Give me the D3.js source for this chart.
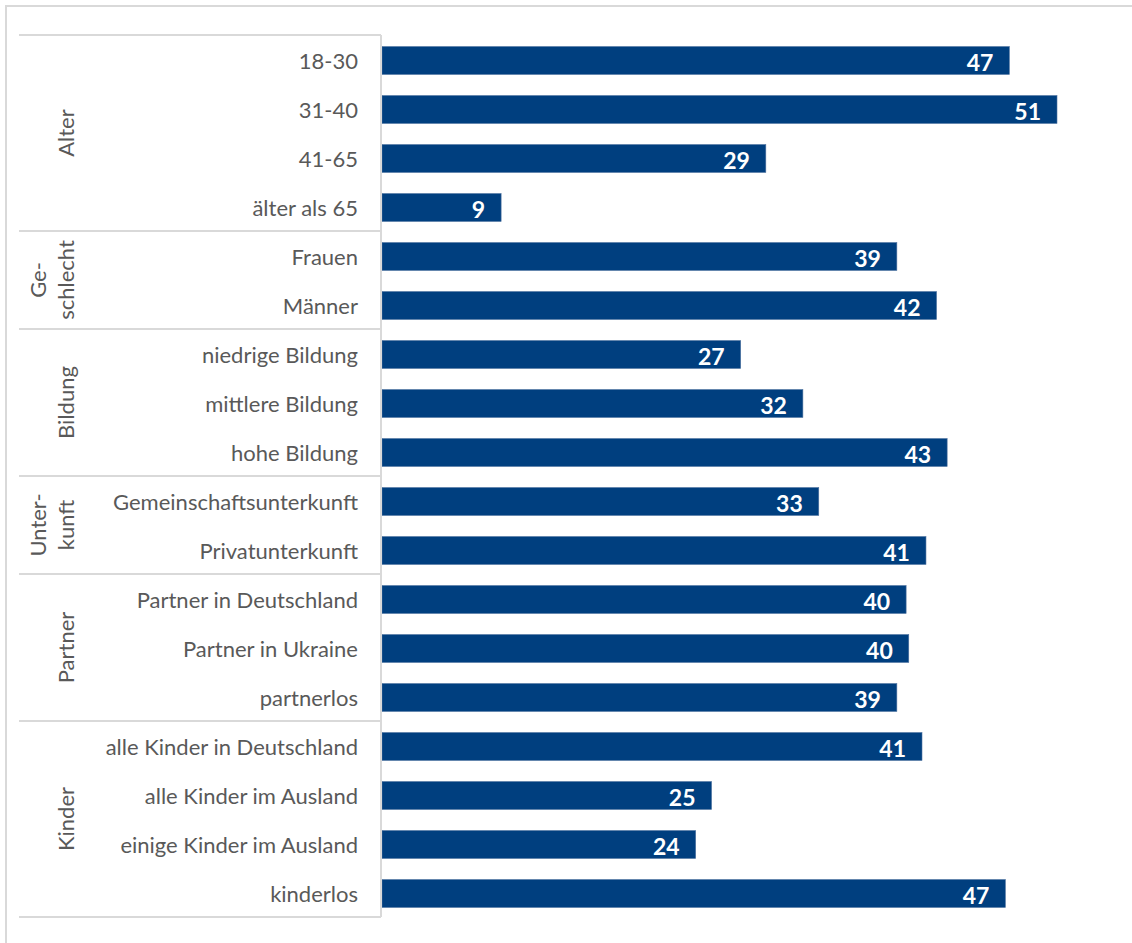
<!DOCTYPE html>
<html>
<head>
<meta charset="utf-8">
<script src="https://cdn.jsdelivr.net/npm/d3@7"></script>
<style>
  html, body { margin: 0; padding: 0; background: #fff; }
  svg { display: block; }
</style>
</head>
<body>
<svg id="chart" width="1132" height="943"></svg>
<script>
// ---- data ----
const categories = [
  "18-30", "31-40", "41-65", "älter als 65",
  "Frauen", "Männer",
  "niedrige Bildung", "mittlere Bildung", "hohe Bildung",
  "Gemeinschaftsunterkunft", "Privatunterkunft",
  "Partner in Deutschland", "Partner in Ukraine", "partnerlos",
  "alle Kinder in Deutschland", "alle Kinder im Ausland", "einige Kinder im Ausland", "kinderlos"
];
const values = [47.4, 51.0, 29.0, 9.0, 38.9, 41.9, 27.1, 31.8, 42.7, 33.0, 41.1, 39.6, 39.8, 38.9, 40.8, 24.9, 23.7, 47.1];
const groupNames = [["Alter"], ["Ge-", "schlecht"], ["Bildung"], ["Unter-", "kunft"], ["Partner"], ["Kinder"]];
const groupSizes = [4, 2, 3, 2, 3, 4];

(function () {
// ---- layout ----
const svg = d3.select("#chart");
const plotTop = 35, plotBottom = 917, axisX = 381, sepLeft = 19;
const barColor = "#003f7f";
const textColor = "#595959";
const lineColor = "#d9d9d9";
const font = "Lato, 'Open Sans', sans-serif";

// outer frame
svg.append("rect")
  .attr("x", 6).attr("y", 6)
  .attr("width", 1140).attr("height", 950)
  .attr("fill", "none").attr("stroke", lineColor).attr("stroke-width", 2);

const y = d3.scaleBand().domain(categories).range([plotTop + 1, plotBottom + 1]).paddingInner(0.43).paddingOuter(0.215);
const x = d3.scaleLinear().domain([0, 51]).range([axisX + 1, 1057]);

// bars
svg.append("g").selectAll("rect").data(categories).join("rect")
  .attr("x", x(0))
  .attr("y", d => y(d))
  .attr("width", (d, i) => x(values[i]) - x(0))
  .attr("height", y.bandwidth())
  .attr("fill", barColor)
  .attr("stroke", "#4f73a0").attr("stroke-width", 0.6);

// value labels
svg.append("g").selectAll("text").data(categories).join("text")
  .attr("x", (d, i) => x(values[i]) - 16)
  .attr("y", d => y(d) + y.bandwidth() / 2 + 1)
  .attr("text-anchor", "end")
  .attr("dominant-baseline", "central")
  .attr("font-family", font)
  .attr("font-weight", "bold")
  .attr("font-size", 23)
  .attr("fill", "#fff")
  .text((d, i) => d3.format(".0f")(values[i]));

// category axis
const step = y.step();
const rowCenter = d => y(d) + y.bandwidth() / 2;
svg.append("g").selectAll("text").data(categories).join("text")
  .attr("x", 358)
  .attr("y", d => rowCenter(d))
  .attr("text-anchor", "end")
  .attr("dominant-baseline", "central")
  .attr("font-family", font)
  .attr("font-size", 22)
  .attr("fill", textColor)
  .text(d => d);

// axis line
svg.append("line")
  .attr("x1", axisX).attr("x2", axisX)
  .attr("y1", plotTop).attr("y2", plotBottom)
  .attr("stroke", lineColor).attr("stroke-width", 2);

// group separators and labels
const sepG = svg.append("g");
const labG = svg.append("g");
let idx = 0;
const bounds = [plotTop];
groupSizes.forEach((n, gi) => {
  const first = categories[idx];
  const last = categories[idx + n - 1];
  const y0 = y(first) - (step - y.bandwidth()) / 2 - 1;
  const y1 = y(last) + y.bandwidth() + (step - y.bandwidth()) / 2 - 1;
  bounds.push(y1);
  const cy = (y0 + y1) / 2;
  const lines = groupNames[gi];
  lines.forEach((t, li) => {
    const lx = lines.length === 1 ? 65 : (li === 0 ? 37 : 65);
    labG.append("text")
      .attr("transform", `translate(${lx},${cy}) rotate(-90)`)
      .attr("text-anchor", "middle")
      .attr("dominant-baseline", "central")
      .attr("font-family", font)
      .attr("font-size", 22)
      .attr("fill", textColor)
      .text(t);
  });
  idx += n;
});
sepG.selectAll("line").data(bounds).join("line")
  .attr("x1", sepLeft).attr("x2", axisX)
  .attr("y1", d => d).attr("y2", d => d)
  .attr("stroke", lineColor).attr("stroke-width", 2);
})();
</script>
</body>
</html>
